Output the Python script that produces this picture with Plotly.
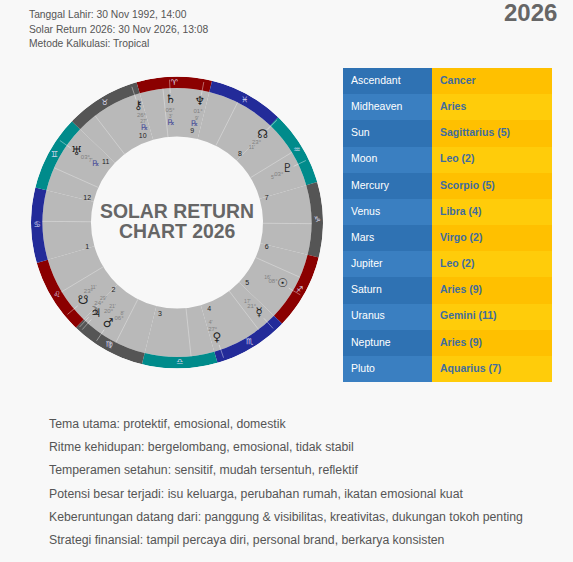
import plotly.graph_objects as go

W = 573
H = 562

# zodiac ring, going clockwise from the top of the wheel
sign_glyphs = ["♈", "♓", "♒", "♑", "♐", "♏", "♎", "♍", "♌", "♋", "♊", "♉"]
sign_colors = ["#8b0000", "#232b99", "#008b8b", "#555555"] * 3
sign_mid = [358.9, 28.9, 58.9, 88.9, 118.9, 148.9, 178.9, 208.9, 238.9, 268.9, 298.9, 328.9]

# house cusps and numbers
cusps = [354, 26.8, 58.6, 90.5, 114, 142.7, 174, 207, 239, 270.5, 294, 322.5]
house_labels = ["9", "8", "7", "6", "5", "4", "3", "2", "1", "12", "11", "10"]
house_theta = [9.4, 42.6, 74.6, 105.4, 131, 159.7, 190.5, 223, 254.8, 285, 310, 338.4]

# planets on the wheel
planet_glyphs = ["⚷", "♄", "♆", "☊", "♇", "☉", "☿", "♀", "♂", "♃", "☽", "☋", "♅"]
planet_theta = [341.6, 357, 10.8, 44.3, 64.3, 120.4, 137.8, 161, 214.2, 221.5, 223, 230, 305]
label_theta = [341.6, 356.5, 10.8, 45, 64.8, 121.4, 138.4, 161.5, 211, 217.5, 224, 232, 305.5]
planet_deg = ["26°", "05°", "01°", "23°", "03°", "08°", "21°", "27°", "06°", "20°", "24°", "23°", "03°"]
planet_min = ["27'", "3'", "9'", "11'", "5'", "16'", "17'", "4'", "8'", "21'", "29'", "11'", "7'"]
retro_theta = [341, 356.5, 10, 305.5]

# table
table_left = ["Ascendant", "Midheaven", "Sun", "Moon", "Mercury", "Venus", "Mars", "Jupiter",
              "Saturn", "Uranus", "Neptune", "Pluto"]
table_right = ["Cancer", "Aries", "Sagittarius (5)", "Leo (2)", "Scorpio (5)", "Libra (4)", "Virgo (2)",
               "Leo (2)", "Aries (9)", "Gemini (11)", "Aries (9)", "Aquarius (7)"]

header_lines = ["Tanggal Lahir: 30 Nov 1992, 14:00",
                "Solar Return 2026: 30 Nov 2026, 13:08",
                "Metode Kalkulasi: Tropical"]
notes = ["Tema utama: protektif, emosional, domestik",
         "Ritme kehidupan: bergelombang, emosional, tidak stabil",
         "Temperamen setahun: sensitif, mudah tersentuh, reflektif",
         "Potensi besar terjadi: isu keluarga, perubahan rumah, ikatan emosional kuat",
         "Keberuntungan datang dari: panggung & visibilitas, kreativitas, dukungan tokoh penting",
         "Strategi finansial: tampil percaya diri, personal brand, berkarya konsisten"]

R_HOLE = 86
R_RING = 134.5
R_OUT = 146

fig = go.Figure()

fig.add_trace(go.Barpolar(r=[R_RING - R_HOLE] * 12, base=R_HOLE, theta=sign_mid, width=30,
                          marker=dict(color="#b9b9b9", line=dict(width=0)), hoverinfo="skip"))
fig.add_trace(go.Barpolar(r=[R_OUT - R_RING] * 12, base=R_RING, theta=sign_mid, width=30,
                          marker=dict(color=sign_colors, line=dict(width=0)), hoverinfo="skip"))

for t in cusps:
    fig.add_trace(go.Scatterpolar(r=[R_HOLE, R_RING], theta=[t, t], mode="lines",
                                  line=dict(color="#d8d8d8", width=0.7), hoverinfo="skip"))
for t in planet_theta:
    fig.add_trace(go.Scatterpolar(r=[R_RING - 5, R_OUT - 3], theta=[t, t], mode="lines",
                                  line=dict(color="rgba(255,255,255,0.5)", width=0.8), hoverinfo="skip"))

fig.add_trace(go.Scatterpolar(r=[140] * 12, theta=sign_mid, mode="text", text=sign_glyphs,
                              textfont=dict(family="DejaVu Sans", size=8, color="#d8d8ee"), hoverinfo="skip"))
fig.add_trace(go.Scatterpolar(r=[93] * 12, theta=house_theta, mode="text", text=house_labels,
                              textfont=dict(family="Liberation Sans", size=7, color="#222222"), hoverinfo="skip"))
fig.add_trace(go.Scatterpolar(r=[122.5] * 13, theta=planet_theta, mode="text", text=planet_glyphs,
                              textfont=dict(family="DejaVu Sans", size=12, color="#222222"), hoverinfo="skip"))
fig.add_trace(go.Scatterpolar(r=[112.5] * 13, theta=label_theta, mode="text", text=planet_deg,
                              textfont=dict(family="Liberation Sans", size=6, color="#808080"), hoverinfo="skip"))
fig.add_trace(go.Scatterpolar(r=[106] * 13, theta=label_theta, mode="text", text=planet_min,
                              textfont=dict(family="Liberation Sans", size=5, color="#808080"), hoverinfo="skip"))
fig.add_trace(go.Scatterpolar(r=[100] * 4, theta=retro_theta, mode="text", text=["℞"] * 4,
                              textfont=dict(family="DejaVu Sans", size=8, color="#4a4f9a"), hoverinfo="skip"))

blue_rows = ["#2f72b3" if i % 2 == 0 else "#3a7fc1" for i in range(12)]
gold_rows = ["#ffc000" if i % 2 == 0 else "#ffcc0a" for i in range(12)]
fig.add_trace(go.Table(
    domain=dict(x=[343 / W, 552 / W], y=[1 - 382 / H, 1 - 68 / H]),
    columnwidth=[89, 120],
    header=dict(values=["", ""], height=0, line=dict(width=0), fill=dict(color="rgba(0,0,0,0)")),
    cells=dict(values=[table_left, table_right], height=26.17, align="left",
               line=dict(width=0),
               fill=dict(color=[blue_rows, gold_rows]),
               font=dict(family="Liberation Sans", size=10.5, weight=["normal", "bold"],
                         color=[["#ffffff"] * 12, ["#3f6d9e"] * 12]))))

anns = []
for i, s in enumerate(header_lines):
    anns.append(dict(x=27 / W, y=1 - (14.5 + i * 14.5) / H, text=s, xanchor="left", yanchor="middle",
                     font=dict(family="Liberation Sans", size=10.3, color="#555555")))
for i, s in enumerate(notes):
    anns.append(dict(x=47 / W, y=1 - (424 + i * 23.2) / H, text=s, xanchor="left", yanchor="middle",
                     font=dict(family="Liberation Sans", size=12.28, color="#555555")))
anns.append(dict(x=559 / W, y=1 - 12 / H, text="<b>2026</b>", xanchor="right", yanchor="middle",
                 font=dict(family="Liberation Sans", size=24, color="#666666")))
for y, s in [(211, "SOLAR RETURN"), (231, "CHART 2026")]:
    anns.append(dict(x=177 / W, y=1 - y / H, text="<b>" + s + "</b>", xanchor="center", yanchor="middle",
                     font=dict(family="Liberation Sans", size=19.4, color="#666666")))
for a in anns:
    a.update(xref="paper", yref="paper", showarrow=False)

fig.update_layout(
    width=W, height=H, margin=dict(l=0, r=0, t=0, b=0), showlegend=False,
    paper_bgcolor="#f8f8f8",
    annotations=anns,
    polar=dict(
        domain=dict(x=[31 / W, 323 / W], y=[1 - 368.5 / H, 1 - 76.5 / H]),
        bgcolor="rgba(0,0,0,0)", barmode="overlay",
        radialaxis=dict(range=[0, R_OUT], visible=False),
        angularaxis=dict(visible=False, direction="clockwise", rotation=90, thetaunit="degrees"),
    ),
)

fig.write_html("out.html", config={"displayModeBar": False}, post_script="document.body.style.margin='0';")
